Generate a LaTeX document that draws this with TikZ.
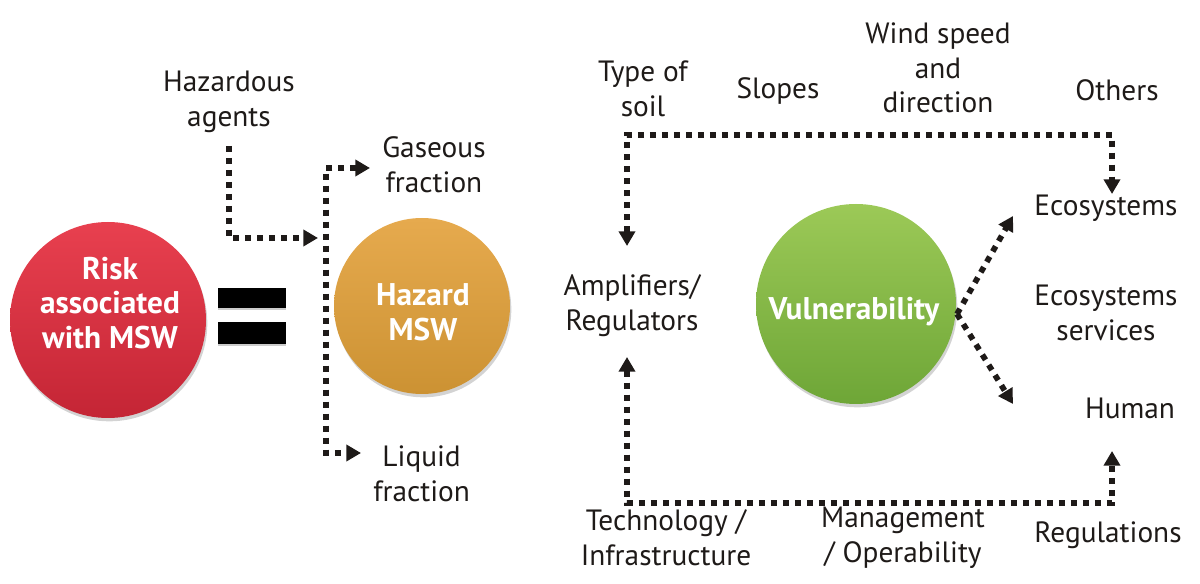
\documentclass[tikz,border=0pt]{standalone}
\usepackage{fontspec}
\setmainfont{PT Sans}
\usetikzlibrary{arrows.meta,shadows}
\definecolor{ink}{HTML}{1E1A18}
\definecolor{redT}{HTML}{E8404F}
\definecolor{redB}{HTML}{C42535}
\definecolor{golT}{HTML}{E6AA4E}
\definecolor{golB}{HTML}{CC9233}
\definecolor{grnT}{HTML}{9CC957}
\definecolor{grnB}{HTML}{6EA637}
\begin{document}
\begin{tikzpicture}[x=0.75pt,y=-0.75pt,
  lbl/.style={font=\fontsize{22}{26}\selectfont, align=center, text=ink, inner sep=0pt},
  ctext/.style={font=\bfseries\fontsize{23.5}{26}\selectfont, align=center, text=white, inner sep=0pt},
  ball/.style={circle, inner sep=0pt, draw=none, drop shadow={opacity=0.35, shadow xshift=1pt, shadow yshift=-2.5pt}},
  dotline/.style={draw=ink, line width=4.3pt, dash pattern=on 4.5pt off 4.5pt},
  tip/.style={-{Triangle[length=11pt,width=12pt]}},
  tips/.style={{Triangle[length=11pt,width=12pt]}-{Triangle[length=11pt,width=12pt]}},
  bar/.style={fill=black, draw=none, drop shadow={opacity=0.4, shadow xshift=0.5pt, shadow yshift=-1.5pt}}
]
\useasboundingbox (0,0) rectangle (1200,584);

% circles
\node[ball, minimum size=147pt, top color=redT, bottom color=redB] (risk) at (108,320) {};
\node[ctext] (risktxt) at (110,303) {Risk\\associated\\with MSW};
\node[bar, minimum width=51pt, minimum height=15.5pt] (eq1) at (251.5,298) {};
\node[bar, minimum width=51pt, minimum height=16pt] (eq2) at (251.5,333) {};
\node[ball, minimum size=132pt, top color=golT, bottom color=golB] (haz) at (422,306) {};
\node[ctext] (haztxt) at (423,312) {Hazard\\MSW};
\node[ball, minimum size=150pt, top color=grnT, bottom color=grnB] (vul) at (856,304) {};
\node[ctext] (vultxt) at (854,312) {Vulnerability};

% labels
\node[lbl] (agents) at (229,102) {Hazardous\\agents};
\node[lbl, anchor=west] (gas) at (382,165) {Gaseous\\fraction};
\node[lbl, anchor=west] (liq) at (373,474) {Liquid\\fraction};
\node[lbl] (soil) at (643,89) {Type of\\soil};
\node[lbl] (slopes) at (778,91) {Slopes};
\node[lbl] (wind) at (938,68) {Wind speed\\and\\direction};
\node[lbl] (others) at (1117,90) {Others};
\node[lbl] (amp) at (632,306) {Amplifiers/\\Regulators};
\node[lbl] (eco) at (1106,208) {Ecosystems};
\node[lbl] (ecos) at (1106,313) {Ecosystems\\services};
\node[lbl] (human) at (1130,408) {Human};
\node[lbl] (tech) at (666,538) {Technology /\\Infrastructure};
\node[lbl] (mgmt) at (903,538) {Management\\/ Operability};
\node[lbl] (regs) at (1108,535) {Regulations};

% junction coordinates
\coordinate (a1) at (229,146);
\coordinate (a2) at (229,238);
\coordinate (j) at (318,238);
\coordinate (vt) at (326,168);
\coordinate (vb) at (326,453);
\coordinate (gt) at (370,168);
\coordinate (lt) at (361,453);
\coordinate (ampt) at (627,246);
\coordinate (ampb) at (627,357);
\coordinate (tl) at (627,135);
\coordinate (tr) at (1112,135);
\coordinate (ecot) at (1112,194);
\coordinate (bl) at (627,503);
\coordinate (br) at (1112,503);
\coordinate (humt) at (1112,451);
\coordinate (vs) at (957,314);
\coordinate (vu) at (1013,216);
\coordinate (vd) at (1013,404);

% connectors
\draw[dotline, tip] (a1) -- (a2) -- (j);
\draw[dotline, tips] (gt) -- (vt) -- (vb) -- (lt);
\draw[dotline, tips] (ampt) -- (tl) -- (tr) -- (ecot);
\draw[dotline, tips] (ampb) -- (bl) -- (br) -- (humt);
\draw[dotline, tip] (vs) -- (vu);
\draw[dotline, tip] (vs) -- (vd);
\end{tikzpicture}
\end{document}
